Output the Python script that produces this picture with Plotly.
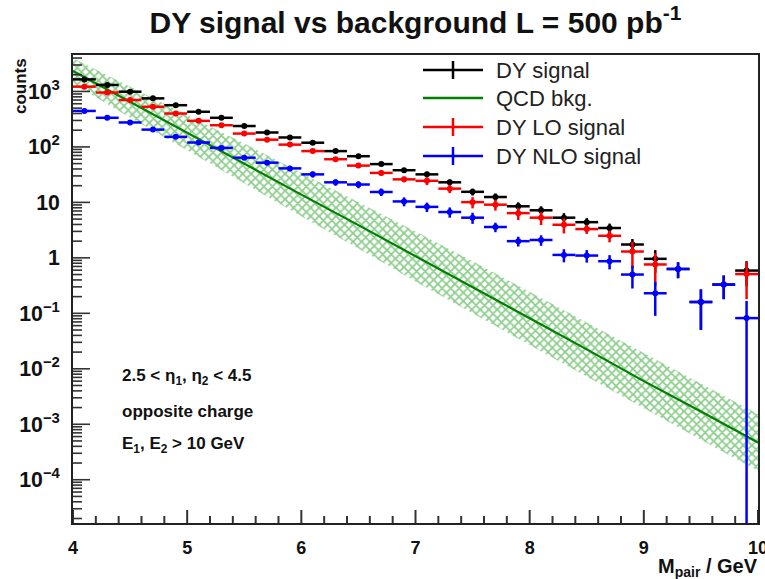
import math
import plotly.graph_objects as go

# ---------------- data ----------------
bin_centers = [4.1, 4.3, 4.5, 4.7, 4.9, 5.1, 5.3, 5.5, 5.7, 5.9,
               6.1, 6.3, 6.5, 6.7, 6.9, 7.1, 7.3, 7.5, 7.7, 7.9,
               8.1, 8.3, 8.5, 8.7, 8.9, 9.1, 9.3, 9.5, 9.7, 9.9]
bin_half_width = 0.1

dy_signal = [1650, 1310, 990, 750, 565, 430, 335, 238, 182, 148,
             119, 84, 68, 49, 38, 32, 23, 15.5, 12.5, 8.5,
             7.2, 5.3, 4.4, 3.45, 1.74, 0.96, 0.63, 0.16, 0.33, 0.59]
dy_signal_err = [60, 50, 40, 30, 25, 20, 16, 12, 10, 9,
                 8, 6, 5, 4, 3.5, 3.5, 2.8, 2.2, 2.0, 1.5,
                 1.3, 1.1, 0.8, 0.7, 0.45, 0.42, 0.2, 0.11, 0.15, 0.28]

dy_lo = [1220, 955, 700, 530, 400, 295, 246, 174, 135, 110,
         84, 60, 46, 34, 26, 24.5, 17.7, 10.1, 9.1, 6.4,
         5.3, 3.95, 3.3, 2.5, 1.3, 0.76, None, None, None, 0.51]
dy_lo_err = [55, 45, 35, 28, 22, 18, 15, 11, 9, 8,
             7, 5.5, 4.5, 3.6, 3.0, 4.0, 3.0, 2.3, 2.0, 1.6,
             1.4, 1.2, 0.6, 0.6, 0.65, 0.45, 0, 0, 0, 0.33]

dy_nlo = [445, 335, 276, 205, 152, 120, 96, 64, 52, 41,
          32, 23, 21, 15.4, 10.4, 8.3, 6.7, 5.3, 3.6, 2.0,
          2.1, 1.13, 1.1, 0.87, 0.50, 0.23, 0.63, 0.16, 0.33, 0.082]
dy_nlo_err = [25, 20, 17, 14, 11, 9, 8, 6, 5, 4.5,
              4, 3, 3, 2.4, 1.9, 1.6, 1.4, 1.2, 0.7, 0.4,
              0.45, 0.3, 0.28, 0.25, 0.22, 0.14, 0.2, 0.11, 0.15, 0.085]

qcd_x = [4.0, 4.5, 5.0, 5.5, 6.0, 6.5, 7.0, 7.5, 8.0, 8.5, 9.0, 9.5, 10.0]
qcd_y = [2340, 646, 182, 50, 13.8, 3.89, 1.06, 0.295, 0.0813, 0.0224,
         0.0060, 0.0017, 0.00047]
qcd_hi = [3980, 1230, 380, 115, 33.9, 10.2, 2.99, 0.87, 0.245, 0.069,
          0.019, 0.0055, 0.00151]
qcd_lo = [1380, 339, 87, 21.9, 5.6, 1.48, 0.376, 0.100, 0.0269, 0.00724,
          0.0019, 0.000525, 0.000145]

legend_names = ["DY signal", "QCD bkg.", "DY LO signal", "DY NLO signal"]
x_title = "M<sub>pair</sub> / GeV"
y_title = "counts"
title = "DY signal vs background L = 500 pb<sup>-1</sup>"
cut_texts = ["2.5 < η<sub>1</sub>, η<sub>2</sub> < 4.5",
             "opposite charge",
             "E<sub>1</sub>, E<sub>2</sub> > 10 GeV"]

# ---------------- style ----------------
FONT = "Liberation Sans"
BLACK = "#000000"
RED = "#ff0000"
BLUE = "#0000ff"
GREEN = "#007f00"
HATCH = "rgba(25,155,25,1)"
FRAME = "#222222"
TICK = "#333333"

W, H = 765, 579
ML, MR, MT, MB = 73, 7, 55, 56
PW, PH = W - ML - MR, H - MT - MB
X_RANGE = [4, 10]
Y_RANGE = [-4.78, 3.657]  # log10


def px2paper(px, py):
    return (px - ML) / PW, (H - MB - py) / PH


fig = go.Figure()

# QCD band (hatched)
fig.add_trace(go.Scatter(x=qcd_x, y=qcd_lo, mode="lines", line=dict(width=0, color=GREEN),
                         showlegend=False, hoverinfo="skip"))
fig.add_trace(go.Scatter(x=qcd_x, y=qcd_hi, mode="lines", line=dict(width=0, color=GREEN),
                         fill="tonexty", fillcolor="rgba(255,255,255,0)",
                         fillpattern=dict(shape="x", fgcolor=HATCH,
                                          bgcolor="rgba(255,255,255,0)", size=6, solidity=0.5),
                         showlegend=False, hoverinfo="skip"))
fig.add_trace(go.Scatter(x=qcd_x, y=qcd_y, mode="lines", showlegend=False,
                         line=dict(color=GREEN, width=2.2)))


def add_series(y, err, color):
    fig.add_trace(go.Scatter(
        x=bin_centers, y=y, mode="markers", showlegend=False,
        marker=dict(color=color, size=6, symbol="circle"),
        error_x=dict(type="constant", value=bin_half_width, color=color, thickness=2.5, width=0),
        error_y=dict(type="data", array=err, color=color, thickness=2.5, width=0),
    ))


add_series(dy_signal, dy_signal_err, BLACK)
add_series(dy_lo, dy_lo_err, RED)
add_series(dy_nlo, dy_nlo_err, BLUE)

annotations = []
shapes = []

# ROOT-style inside ticks (left and bottom axes only)
for i in range(31):
    xv = X_RANGE[0] + i * 0.2
    major = (i % 5 == 0)
    ln = (13 if major else 7) / PH
    shapes.append(dict(type="line", xref="x", yref="paper", x0=xv, x1=xv, y0=0, y1=ln,
                       line=dict(color=TICK, width=2)))
for dec in range(-5, 4):
    for k in range(1, 10):
        lv = dec + math.log10(k)
        if lv < Y_RANGE[0] or lv > Y_RANGE[1]:
            continue
        yp = (lv - Y_RANGE[0]) / (Y_RANGE[1] - Y_RANGE[0])
        ln = (17 if k == 1 else 9) / PW
        shapes.append(dict(type="line", xref="paper", yref="paper", x0=0, x1=ln, y0=yp, y1=yp,
                           line=dict(color=TICK, width=1.6)))

# manual legend (ROOT style)
legend_colors = [BLACK, GREEN, RED, BLUE]
legend_has_err = [True, False, True, True]
row_y = [70, 98, 127, 156]
for name, col, has_err, ry in zip(legend_names, legend_colors, legend_has_err, row_y):
    x0, y0 = px2paper(423, ry)
    x1, _ = px2paper(483, ry)
    shapes.append(dict(type="line", xref="paper", yref="paper", x0=x0, x1=x1, y0=y0, y1=y0,
                       line=dict(color=col, width=2.5)))
    if has_err:
        xm, ya = px2paper(453, ry - 9)
        _, yb = px2paper(453, ry + 9)
        shapes.append(dict(type="line", xref="paper", yref="paper", x0=xm, x1=xm, y0=ya, y1=yb,
                           line=dict(color=col, width=2.5)))
    tx, ty = px2paper(494, ry)
    annotations.append(dict(text=name, xref="paper", yref="paper", x=tx, y=ty,
                            xanchor="left", yanchor="middle", showarrow=False,
                            font=dict(family=FONT, size=22, color="#222")))

cut_y = [377, 411, 445]
for t, cy in zip(cut_texts, cut_y):
    tx, ty = px2paper(120, cy)
    annotations.append(dict(text=t, xref="paper", yref="paper", x=tx, y=ty,
                            xanchor="left", yanchor="middle", showarrow=False,
                            font=dict(family=FONT, size=17, color="#111", weight="bold")))

yx, yy = px2paper(20, 56)
annotations.append(dict(text=y_title, xref="paper", yref="paper", x=yx, y=yy,
                        xanchor="center", yanchor="top", textangle=-90, showarrow=False,
                        font=dict(family=FONT, size=17, color="#111", weight="bold")))
xx, xy = px2paper(760, 567)
annotations.append(dict(text=x_title, xref="paper", yref="paper", x=xx, y=xy,
                        xanchor="right", yanchor="middle", showarrow=False,
                        font=dict(family=FONT, size=20, color="#111", weight="bold")))

fig.update_layout(
    width=W, height=H,
    margin=dict(l=ML, r=MR, t=MT, b=MB),
    paper_bgcolor="white", plot_bgcolor="white",
    title=dict(text=title, x=0.5, xref="paper", xanchor="center", y=1 - 22 / H, yanchor="middle",
               font=dict(family=FONT, size=30, color="#111", weight="bold")),
    annotations=annotations,
    shapes=shapes,
    showlegend=False,
)

fig.update_xaxes(range=X_RANGE, showline=True, linecolor=FRAME, linewidth=1.5, mirror=True,
                 ticks="", dtick=1, tick0=4,
                 showgrid=False, zeroline=False, automargin=False, ticklabelstandoff=8,
                 ticklabeloverflow="allow",
                 tickfont=dict(family=FONT, size=18, color="#111", weight="bold"))
fig.update_yaxes(type="log", range=Y_RANGE, showline=True, linecolor=FRAME, linewidth=1.5,
                 mirror=True, ticks="", dtick=1, exponentformat="power",
                 showgrid=False, zeroline=False, ticklabelstandoff=8, automargin=False,
                 tickfont=dict(family=FONT, size=17, color="#111", weight="bold"))

fig.write_html("out.html")
